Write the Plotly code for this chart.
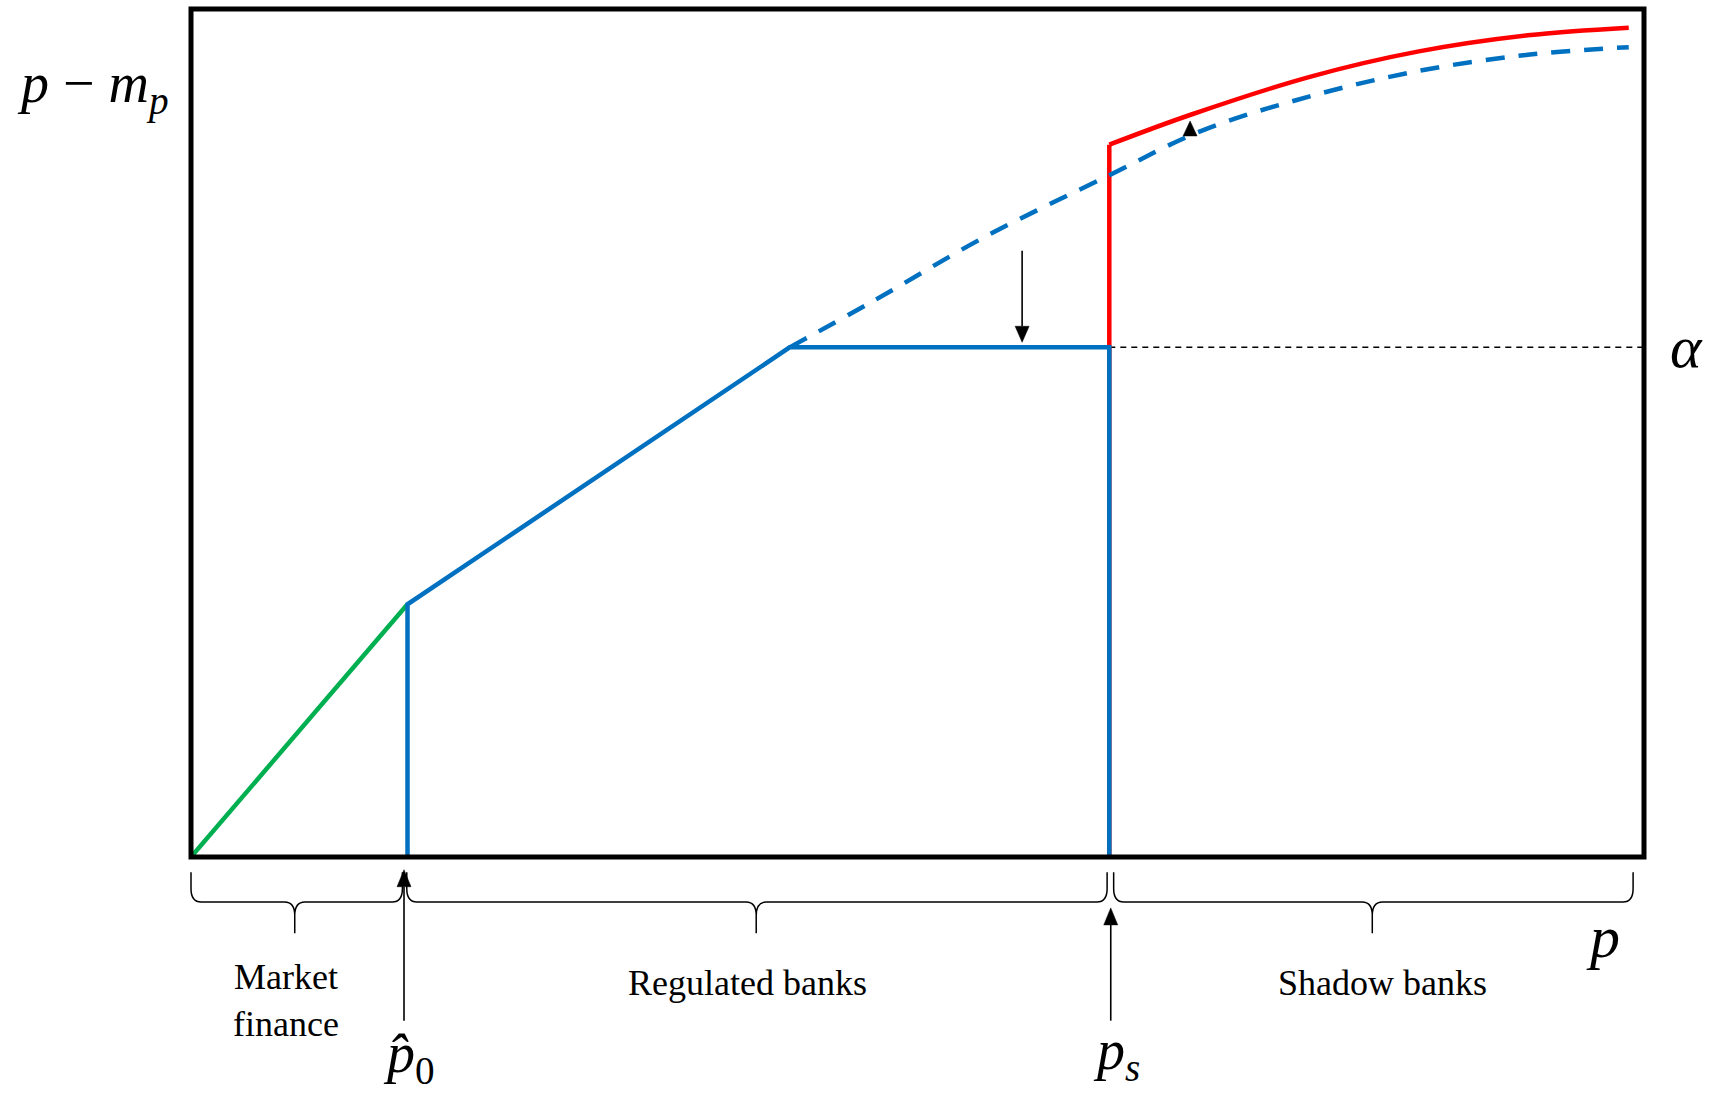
import plotly.graph_objects as go

# ---- data (axis units: x and y both span 0..1 of the framed box) ----
p_hat0 = 0.149
p_kink = 0.412
p_s = 0.632
alpha = 0.601
y_hat0 = 0.298

market_x = [0.0, p_hat0]
market_y = [0.0, y_hat0]

reg_x = [p_hat0, p_hat0, p_kink, p_s, p_s]
reg_y = [0.0, y_hat0, alpha, alpha, 0.0]

shadow_vert_x = [p_s, p_s]
shadow_vert_y = [0.0, 0.840]
shadow_x = [p_s, 0.6875, 0.770, 0.845, 0.920, 0.9895]
shadow_y = [0.840, 0.875, 0.920, 0.950, 0.969, 0.978]

unreg_x = [p_kink, 0.470, 0.545, p_s, 0.695, 0.770, 0.845, 0.920, 0.9895]
unreg_y = [alpha, 0.656, 0.730, 0.804, 0.856, 0.897, 0.927, 0.946, 0.955]

alpha_x = [p_s, 1.0]
alpha_y = [alpha, alpha]

BLUE = "#0070C0"
GREEN = "#00B050"
RED = "#FF0000"
SERIF = "Liberation Serif"
LW = 4.5
PX_X = 1453.0  # plot-area width in px
PX_Y = 848.0   # plot-area height in px

fig = go.Figure()
fig.add_trace(go.Scatter(x=alpha_x, y=alpha_y, mode="lines",
                         line=dict(color="black", width=1.5, dash="6px,5px")))
fig.add_trace(go.Scatter(x=market_x, y=market_y, mode="lines",
                         line=dict(color=GREEN, width=LW)))
fig.add_trace(go.Scatter(x=shadow_vert_x, y=shadow_vert_y, mode="lines",
                         line=dict(color=RED, width=LW)))
fig.add_trace(go.Scatter(x=shadow_x, y=shadow_y, mode="lines",
                         line=dict(color=RED, width=LW, shape="spline")))
fig.add_trace(go.Scatter(x=unreg_x, y=unreg_y, mode="lines",
                         line=dict(color=BLUE, width=LW, shape="spline", dash="19px,14px")))
fig.add_trace(go.Scatter(x=reg_x, y=reg_y, mode="lines",
                         line=dict(color=BLUE, width=LW)))

# frame (paper refs so the stroke is not clipped)
fig.add_shape(type="rect", xref="paper", yref="paper", x0=0, y0=0, x1=1, y1=1,
              line=dict(color="black", width=5), layer="above")


def brace(x0, x1, xt, ytop=-0.018, ymid=-0.053, ybot=-0.090, dx=0.007, ddy=0.016):
    return (f"M{x0},{ytop} L{x0},{ymid + ddy} Q{x0},{ymid} {x0 + dx},{ymid} "
            f"L{xt - dx},{ymid} Q{xt},{ymid} {xt},{ymid - ddy} L{xt},{ybot} "
            f"M{xt},{ymid - ddy} Q{xt},{ymid} {xt + dx},{ymid} "
            f"L{x1 - dx},{ymid} Q{x1},{ymid} {x1},{ymid + ddy} L{x1},{ytop}")


brace_spans = [(0.0, 0.1455, 0.0714), (0.1485, 0.6305, 0.389), (0.635, 0.9925, 0.813)]
for a, b, t in brace_spans:
    fig.add_shape(type="path", xref="paper", yref="paper", path=brace(a, b, t),
                  line=dict(color="black", width=1.5))


def add_arrow(x, y_tail, y_tip, ref, head_w=14, head_h=17):
    """Vertical arrow drawn with a line plus a filled triangular head (coords in paper units)."""
    up = 1 if y_tip > y_tail else -1
    hh = head_h / PX_Y
    hw = head_w / 2 / PX_X
    y_base = y_tip - up * hh
    xr, yr = ref
    if y_tail != y_base and abs(y_tip - y_tail) > hh:
        fig.add_shape(type="line", xref=xr, yref=yr, x0=x, x1=x, y0=y_tail, y1=y_base,
                      line=dict(color="black", width=1.6), layer="above")
    fig.add_shape(type="path", xref=xr, yref=yr,
                  path=f"M{x - hw},{y_base} L{x},{y_tip} L{x + hw},{y_base} Z",
                  fillcolor="black", line=dict(color="black", width=0.5), layer="above")


add_arrow(0.1466, -0.193, -0.015, ("paper", "paper"))
add_arrow(0.633, -0.193, -0.060, ("paper", "paper"))
add_arrow(0.572, 0.715, 0.607, ("x", "y"), head_w=14, head_h=16)
add_arrow(0.6876, 0.851, 0.868, ("x", "y"), head_w=14, head_h=15)

annotations = []


def label(x, y, text, size, xref="paper", yref="paper"):
    return dict(x=x, y=y, xref=xref, yref=yref, showarrow=False, text=text,
                xanchor="center", yanchor="middle",
                font=dict(family=SERIF, size=size, color="black"))


annotations.append(label(-0.0674, 0.908, "<i>p</i> − <i>m</i><sub><i>p</i></sub>", 56))
annotations.append(label(1.0295, alpha, "<i>α</i>", 60, yref="y"))
annotations.append(label(0.972, -0.094, "<i>p</i>", 60))
annotations.append(label(0.0655, -0.169, "Market<br>finance", 36))
annotations.append(label(0.383, -0.149, "Regulated banks", 36))
annotations.append(label(0.820, -0.149, "Shadow banks", 36))
annotations.append(label(0.150, -0.236, "<i>p̂</i><sub>0</sub>", 56))
annotations.append(label(0.637, -0.232, "<i>p</i><sub><i>s</i></sub>", 56))

fig.update_layout(
    width=1712, height=1097,
    margin=dict(l=191, r=68, t=9, b=240),
    paper_bgcolor="white", plot_bgcolor="white",
    showlegend=False, hovermode=False,
    annotations=annotations,
    xaxis=dict(range=[0, 1], visible=False, showgrid=False, zeroline=False),
    yaxis=dict(range=[0, 1], visible=False, showgrid=False, zeroline=False),
)

fig.write_html("out.html")
